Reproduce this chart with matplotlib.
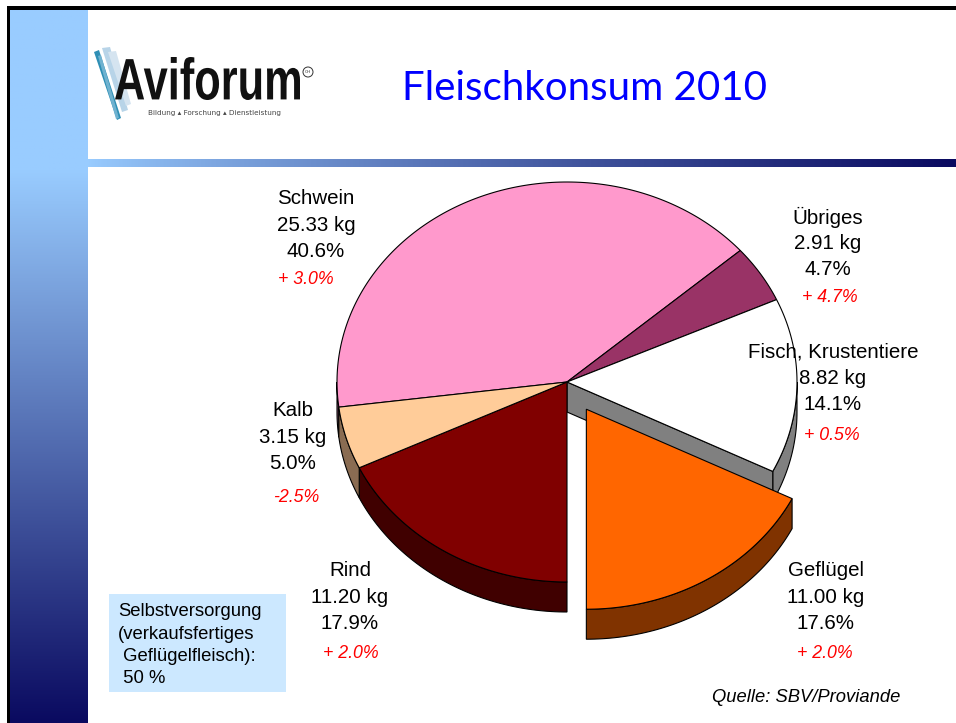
import numpy as np
import matplotlib.pyplot as plt
from matplotlib.patches import Polygon, Rectangle, PathPatch, Circle
from matplotlib.textpath import TextPath
from matplotlib.font_manager import FontProperties
from matplotlib.transforms import Affine2D

# data (per-capita meat consumption 2010)
categories = ["Schwein", "Übriges", "Fisch, Krustentiere", "Geflügel", "Rind", "Kalb"]
kg = [25.33, 2.91, 8.82, 11.00, 11.20, 3.15]
share = [40.6, 4.7, 14.1, 17.6, 17.9, 5.0]
change = [3.0, 4.7, 0.5, 2.0, 2.0, -2.5]
explode = [0, 0, 0, 0.16, 0, 0]

top_colors = ["#FF99CC", "#993366", "#FFFFFF", "#FF6600", "#800000", "#FFCC99"]
side_colors = ["#804C66", "#4C1933", "#808080", "#803300", "#400000", "#8A6C52"]

# label layout (pixel positions of first line / red line)
label_xy = [(316, 199), (828, 217), (833, 352), (826, 571), (350, 571), (293, 411)]
change_xy = [(306, 280), (830, 298), (832, 436), (825, 653), (351, 653), (296, 497)]

W, H = 956, 723
fig = plt.figure(figsize=(W / 100, H / 100), dpi=100)
ax = fig.add_axes([0, 0, 1, 1])
ax.set_xlim(0, W)
ax.set_ylim(H, 0)
ax.axis("off")

# slide frame and gradient bars
c_light = np.array([153, 204, 255]) / 255
c_dark = np.array([10, 10, 96]) / 255
ys = np.linspace(0, 1, 300)
f = np.clip((ys * (H - 10) - 160) / (H - 170), 0, 1)
vgrad = (c_light[None, :] * (1 - f[:, None]) + c_dark[None, :] * f[:, None])[:, None, :]
ax.imshow(vgrad, extent=(10, 88, H, 9), aspect="auto", zorder=1)
xs = np.linspace(0, 1, 400)
g = xs ** 0.85
hgrad = (c_light[None, :] * (1 - g[:, None]) + c_dark[None, :] * g[:, None])[None, :, :]
ax.imshow(hgrad, extent=(88, W, 167, 159), aspect="auto", zorder=1)
ax.add_patch(Rectangle((7, 6), W, 3.5, color="black", lw=0, zorder=2))
ax.add_patch(Rectangle((7, 6), 3, H, color="black", lw=0, zorder=2))

# logo
for pts, col in [([(94, 52), (99, 50), (121, 118), (117, 120)], "#2F8FB5"),
                 ([(102, 48), (110, 47), (128, 110), (122, 112)], "#B8D4E8"),
                 ([(108, 52), (116, 51), (131, 104), (126, 106)], "#D5E4F0"),
                 ([(98, 56), (101, 55), (119, 118), (116, 119)], "#6FB2D0")]:
    ax.add_patch(Polygon(pts, closed=True, color=col, lw=0, zorder=3))
tp = TextPath((0, 0), "Aviforum", size=10,
              prop=FontProperties(family="Liberation Sans", weight="bold"))
ext = tp.get_extents()
sx = (300 - 115) / ext.width
sy = (100 - 57) / ext.height
tr = Affine2D().translate(-ext.x0, -ext.y0).scale(sx, -sy).translate(115, 100)
ax.add_patch(PathPatch(tr.transform_path(tp), color="#111111", lw=0, zorder=4))
ax.add_patch(Circle((308, 72), 5, fill=False, ec="#333333", lw=0.7, zorder=4))
ax.text(308, 72, "CH", fontsize=3.2, ha="center", va="center", color="#333333", zorder=4)
ax.text(148, 113, "Bildung ▴ Forschung ▴ Dienstleistung", fontsize=5.2,
        color="#444444", ha="left", va="center", zorder=4)

# title
ax.text(585, 88, "Fleischkonsum 2010", fontsize=29, color="#0000FF",
        family="Lato", weight="normal", ha="center", va="center", zorder=4)

# 3D pie geometry
CX, CY, A, B, DEPTH = 567, 382, 230, 200, 30
total = sum(kg)
start = 180 + sum(kg[4:]) / total * 360
bounds = start + np.concatenate([[0], np.cumsum(kg) / total * 360])


def arc(t1, t2, dx, dy, dz=0):
    t = np.radians(np.linspace(t1, t2, max(2, int(abs(t2 - t1)) + 2)))
    return np.column_stack([CX + dx + A * np.sin(t), CY + dy - B * np.cos(t) + dz])


def offsets(i):
    mid = np.radians((bounds[i] + bounds[i + 1]) / 2)
    return explode[i] * A * np.sin(mid), -explode[i] * B * np.cos(mid)


def rim(i, z):
    t1, t2 = bounds[i], bounds[i + 1]
    dx, dy = offsets(i)
    for k in range(2):
        lo, hi = max(t1, 90 + 360 * k), min(t2, 270 + 360 * k)
        if hi > lo:
            top = arc(lo, hi, dx, dy)
            bot = arc(hi, lo, dx, dy, DEPTH)
            ax.add_patch(Polygon(np.vstack([top, bot]), closed=True, fc=side_colors[i],
                                 ec="black", lw=0.8, zorder=z))


def radial(i, t, z):
    dx, dy = offsets(i)
    p = arc(t, t, dx, dy)[0]
    c = (CX + dx, CY + dy)
    pts = [c, tuple(p), (p[0], p[1] + DEPTH), (c[0], c[1] + DEPTH)]
    ax.add_patch(Polygon(pts, closed=True, fc=side_colors[i], ec="black", lw=0.8, zorder=z))


def top(i, z):
    dx, dy = offsets(i)
    pts = np.vstack([[CX + dx, CY + dy], arc(bounds[i], bounds[i + 1], dx, dy)])
    ax.add_patch(Polygon(pts, closed=True, fc=top_colors[i], ec="black", lw=0.8, zorder=z))


n = len(kg)
for i in range(n):
    if explode[i] == 0:
        rim(i, 5)
for i in range(n):
    if explode[i] == 0:
        if explode[(i + 1) % n] and np.sin(np.radians(bounds[i + 1])) > 0.01:
            radial(i, bounds[i + 1], 6)
        if explode[i - 1] and np.sin(np.radians(bounds[i])) < -0.01:
            radial(i, bounds[i], 6)
for i in range(n):
    if explode[i] == 0:
        top(i, 7)
for i in range(n):
    if explode[i]:
        rim(i, 8)
        top(i, 9)

# labels
lab_font = dict(family="Liberation Sans", fontsize=14.8, color="black",
                ha="center", va="center", zorder=10)
for i in range(n):
    x, y = label_xy[i]
    lines = [categories[i], f"{kg[i]:.2f} kg", f"{share[i]:.1f}%"]
    for j, s in enumerate(lines):
        ax.text(x, y + 26.3 * j, s, **lab_font)
    cx, cy = change_xy[i]
    s = f"+ {change[i]:.1f}%" if change[i] > 0 else f"{change[i]:.1f}%"
    ax.text(cx, cy, s, family="Liberation Sans", fontsize=12.8, style="italic",
            color="#FF0000", ha="center", va="center", zorder=10)

# info box and source
ax.add_patch(Rectangle((109, 594), 177, 98, fc="#CCE8FF", ec="none", zorder=3))
box_lines = ["Selbstversorgung", "(verkaufsfertiges", " Geflügelfleisch):", " 50 %"]
for j, s in enumerate(box_lines):
    ax.text(118, 612 + 22.2 * j, s, family="Liberation Sans", fontsize=13.3,
            ha="left", va="center", zorder=4)
ax.text(806, 698, "Quelle: SBV/Proviande", family="Liberation Sans", fontsize=13.2,
        style="italic", ha="center", va="center", zorder=4)

fig.savefig("out.png", dpi=100)
